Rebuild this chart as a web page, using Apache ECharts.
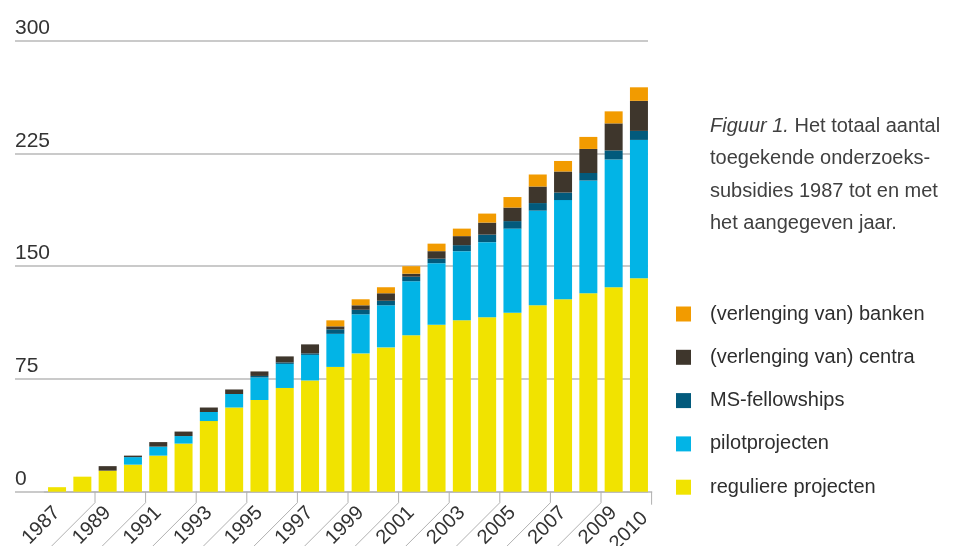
<!DOCTYPE html>
<html>
<head>
<meta charset="utf-8">
<script src="https://cdn.jsdelivr.net/npm/echarts@6/dist/echarts.min.js"></script>
<style>
html,body{margin:0;padding:0;background:#fff;}
#c{width:960px;height:546px;}
</style>
</head>
<body>
<div id="c"></div>
<script>
var years = ['1987','1988','1989','1990','1991','1992','1993','1994','1995','1996','1997','1998','1999','2000','2001','2002','2003','2004','2005','2006','2007','2008','2009','2010'];
var reguliere = [3, 10, 14, 18, 24, 32, 47, 56, 61, 69, 74, 83, 92, 96, 104, 111, 114, 116, 119, 124, 128, 132, 136, 142];
var pilot     = [0, 0, 0, 5, 6, 5, 6, 9, 15, 16, 17, 22, 26, 28, 36, 41, 46, 50, 56, 63, 66, 75, 85, 92];
var msFellow  = [0, 0, 0, 0, 0, 0, 0, 0, 1, 1, 1, 3, 3, 3, 3, 3, 4, 5, 5, 5, 5, 5, 6, 6];
var centra    = [0, 0, 3, 1, 3, 3, 3, 3, 3, 4, 6, 2, 3, 5, 2, 5, 6, 8, 9, 11, 14, 16, 18, 20];
var banken    = [0, 0, 0, 0, 0, 0, 0, 0, 0, 0, 0, 4, 4, 4, 5, 5, 5, 6, 7, 8, 7, 8, 8, 9];
var yTicks = [0, 75, 150, 225, 300];
var names = ['reguliere projecten', 'pilotprojecten', 'MS-fellowships', '(verlenging van) centra', '(verlenging van) banken'];
var colors = ['#F1E300', '#02B4E6', '#025A7C', '#3E362C', '#F29B00'];
var FONT = '"Liberation Sans", Arial, sans-serif';
var TXT = '#404040';

var chart = echarts.init(document.getElementById('c'), null, {renderer: 'canvas'});
var seriesData = [reguliere, pilot, msFellow, centra, banken];
var series = seriesData.map(function (d, k) {
  return {
    name: names[k], type: 'bar', stack: 'total', xAxisIndex: 1, yAxisIndex: 1,
    data: d, barWidth: 18, itemStyle: {color: colors[k]}, emphasis: {disabled: true}
  };
});
var lastIdx = years.length - 1;

chart.setOption({
  animation: false,
  textStyle: {fontFamily: FONT},
  title: {
    left: 710, top: 110, padding: 0,
    text: '{i|Figuur 1.} Het totaal aantal\ntoegekende onderzoeks-\nsubsidies 1987 tot en met\nhet aangegeven jaar.',
    textStyle: {
      fontFamily: FONT, fontSize: 20, fontWeight: 'normal', color: TXT, lineHeight: 32.5,
      rich: {i: {fontFamily: FONT, fontSize: 20, fontStyle: 'italic', color: TXT, lineHeight: 32.5}}
    }
  },
  legend: {
    orient: 'vertical', left: 676, top: 304, padding: 0,
    data: names.slice().reverse(),
    icon: 'rect', itemWidth: 15, itemHeight: 15, itemGap: 23.3,
    selectedMode: false,
    textStyle: {fontFamily: FONT, fontSize: 20, color: '#2e2e2e', lineHeight: 20, padding: [0, 0, 0, 14]}
  },
  grid: [
    {left: 15, right: 312, top: 40.7, bottom: 54.3, outerBoundsMode: 'none', containLabel: false},
    {left: 44.4, right: 308.4, top: 40.7, bottom: 54.3, outerBoundsMode: 'none', containLabel: false}
  ],
  xAxis: [
    {gridIndex: 0, type: 'value', show: false, min: 0, max: 1},
    {gridIndex: 1, type: 'category', data: years,
     axisLine: {show: true, lineStyle: {color: '#b9b9b9', width: 1.6}},
     axisTick: {show: false},
     axisLabel: {
       rotate: 45, fontSize: 20, color: '#333', margin: 18, fontFamily: FONT,
       showMaxLabel: true, showMinLabel: true, hideOverlap: false,
       interval: function (idx) { return idx % 2 === 0 || idx === lastIdx; },
       formatter: function (v, idx) { return idx === lastIdx ? '{last|' + v + '}' : v; },
       rich: {last: {fontSize: 20, color: '#333', fontFamily: FONT, padding: [16, 0, 0, 0]}}
     }}
  ],
  yAxis: [
    {gridIndex: 0, type: 'value', min: yTicks[0], max: yTicks[yTicks.length - 1], interval: yTicks[1] - yTicks[0],
     axisLine: {show: false}, axisTick: {show: false},
     splitLine: {show: true, lineStyle: {color: '#b9b9b9', width: 1.6}},
     axisLabel: {inside: true, align: 'left', verticalAlign: 'bottom', margin: 0, fontSize: 21, color: '#333', fontFamily: FONT, padding: [0, 0, 2, 0]}},
    {gridIndex: 1, type: 'value', min: yTicks[0], max: yTicks[yTicks.length - 1], show: false, splitLine: {show: false}}
  ],
  series: series
});

// leader lines for the x-axis labels, derived from the category axis scale
var p0 = chart.convertToPixel({xAxisIndex: 1}, 0);
var p1 = chart.convertToPixel({xAxisIndex: 1}, 1);
var half = (p1 - p0) / 2;
var y0 = chart.convertToPixel({yAxisIndex: 1}, 0);
var gfx = [];
for (var i = 2; i < years.length; i += 2) {
  var xb = chart.convertToPixel({xAxisIndex: 1}, i) - half;
  gfx.push({type: 'polyline', silent: true, z: 1,
    shape: {points: [[xb, y0], [xb, y0 + 11], [xb - 60, y0 + 71]]},
    style: {stroke: '#b0b0b0', lineWidth: 1, fill: null}});
}
var xe = chart.convertToPixel({xAxisIndex: 1}, lastIdx) + half;
gfx.push({type: 'polyline', silent: true, z: 1,
  shape: {points: [[xe, y0], [xe, y0 + 13]]},
  style: {stroke: '#b0b0b0', lineWidth: 1, fill: null}});
chart.setOption({graphic: gfx});
</script>
</body>
</html>
